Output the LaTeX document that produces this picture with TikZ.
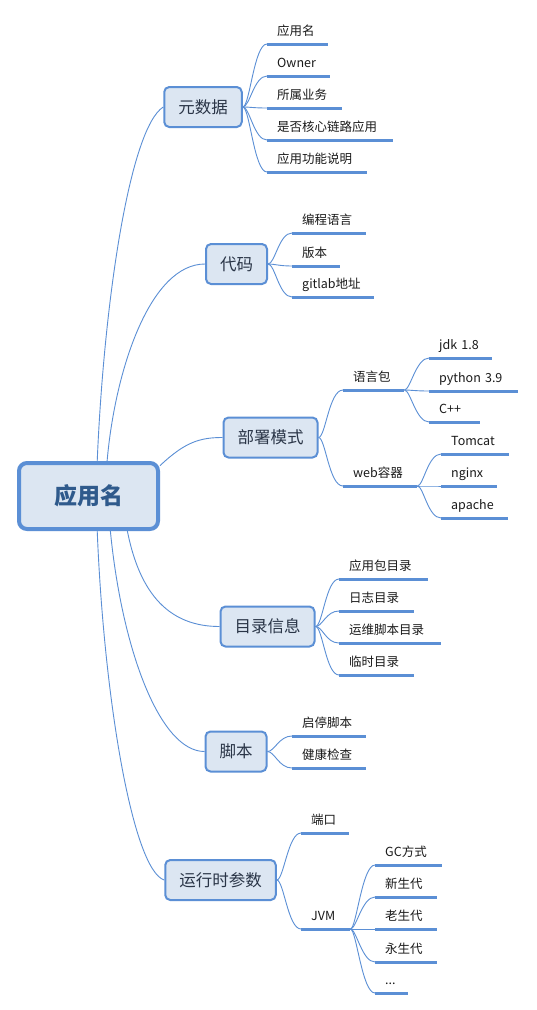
\documentclass[tikz,border=0pt]{standalone}
\usepackage{fontspec}
\setmainfont{Noto Sans CJK SC}
\usetikzlibrary{calc}
\definecolor{lineblue}{HTML}{5B8FD5}
\definecolor{boxfill}{HTML}{DCE6F2}
\definecolor{roottext}{HTML}{2F5A8C}
\definecolor{branchtext}{HTML}{2A3547}
\definecolor{leaftext}{HTML}{1A1A1A}
\begin{document}
\begin{tikzpicture}[x=1pt,y=-1pt,
  rootbox/.style={draw=lineblue, line width=4pt, fill=boxfill, rounded corners=8pt,
    minimum width=139pt, minimum height=66pt, inner sep=0pt,
    font=\fontsize{23}{26}\selectfont\bfseries, text=roottext},
  branchbox/.style={draw=lineblue, line width=2pt, fill=boxfill, rounded corners=5pt,
    minimum height=40pt, inner xsep=14pt, inner ysep=0pt,
    font=\fontsize{16.5}{19}\selectfont, text=branchtext},
  leaf/.style={anchor=south west, inner xsep=10pt, inner ysep=8pt, text depth=0pt,
    align=left, font=\fontsize{12.5}{14}\selectfont, text=leaftext},
  conn/.style={draw=lineblue, line width=0.9pt},
  uline/.style={draw=lineblue, line width=3pt}
]
\useasboundingbox[fill=white] (0,0) rectangle (536,1010);

% root
\node[rootbox] (root) at (88.5,496) {应用名};

% branches
\node[branchbox] (meta) at (203,107) {元数据};
\node[branchbox] (code) at (236.5,264) {代码};
\node[branchbox] (deploy) at (270.5,437.5) {部署模式};
\node[branchbox] (dir) at (267.5,626.5) {目录信息};
\node[branchbox] (script) at (236,751.5) {脚本};
\node[branchbox] (run) at (220.5,880) {运行时参数};

% leaves: meta
\node[leaf, text width=41pt] (m1) at (267,44) {应用名};
\node[leaf, text width=43pt] (m2) at (267,76) {Owner};
\node[leaf, text width=55pt] (m3) at (267,108) {所属业务};
\node[leaf, text width=106pt] (m4) at (267,140) {是否核心链路应用};
\node[leaf, text width=80pt] (m5) at (267,172) {应用功能说明};
% code
\node[leaf, text width=54pt] (c1) at (292,233) {编程语言};
\node[leaf, text width=28pt] (c2) at (292,266) {版本};
\node[leaf, text width=62pt] (c3) at (292,297) {gitlab地址};
% deploy
\node[leaf, text width=41pt] (d1) at (343,390) {语言包};
\node[leaf, text width=54pt] (d2) at (343,486) {web容器};
\node[leaf, text width=43pt] (d11) at (429,358) {jdk 1.8};
\node[leaf, text width=69pt] (d12) at (429,391) {python 3.9};
\node[leaf, text width=31pt] (d13) at (429,422) {C++};
\node[leaf, text width=48pt] (d21) at (441,454) {Tomcat};
\node[leaf, text width=36pt] (d22) at (441,486) {nginx};
\node[leaf, text width=47pt] (d23) at (441,518) {apache};
% dir
\node[leaf, text width=69pt] (e1) at (339,579) {应用包目录};
\node[leaf, text width=55pt] (e2) at (339,611) {日志目录};
\node[leaf, text width=82pt] (e3) at (339,643) {运维脚本目录};
\node[leaf, text width=55pt] (e4) at (339,675) {临时目录};
% script
\node[leaf, text width=54pt] (s1) at (292,736) {启停脚本};
\node[leaf, text width=54pt] (s2) at (292,768) {健康检查};
% run
\node[leaf, text width=28pt] (r1) at (301,833) {端口};
\node[leaf, text width=29pt] (r2) at (301,929) {JVM};
\node[leaf, text width=47pt] (r21) at (375,865) {GC方式};
\node[leaf, text width=42pt] (r22) at (375,897) {新生代};
\node[leaf, text width=42pt] (r23) at (375,929) {老生代};
\node[leaf, text width=42pt] (r24) at (375,962) {永生代};
\node[leaf, text width=13pt] (r25) at (375,993) {...};

% underlines
\foreach \n in {m1,m2,m3,m4,m5,c1,c2,c3,d1,d2,d11,d12,d13,d21,d22,d23,e1,e2,e3,e4,s1,s2,r1,r2,r21,r22,r23,r24,r25}
  \draw[uline] (\n.south west) -- (\n.south east);

% root connectors
\draw[conn] (root.76) .. controls (104,300) and (130,128) .. (meta.west);
\draw[conn] (root.62) .. controls (115,370) and (150,264) .. (code.west);
\draw[conn] (root.23) .. controls (185,442) and (200,437.5) .. (deploy.west);
\draw[conn] (root.-42) .. controls (140,595) and (170,626.5) .. (dir.west);
\draw[conn] (root.-58) .. controls (122,650) and (160,751.5) .. (script.west);
\draw[conn] (root.-76) .. controls (104,700) and (133,870) .. (run.west);

% leaf connectors
\foreach \n in {m1,m2,m3,m4,m5}
  \draw[conn] (meta.east) .. controls +(7,0) and +(-13,0) .. (\n.south west);
\foreach \n in {c1,c2,c3}
  \draw[conn] (code.east) .. controls +(7,0) and +(-13,0) .. (\n.south west);
\foreach \n in {d1,d2}
  \draw[conn] (deploy.east) .. controls +(7,0) and +(-14,0) .. (\n.south west);
\foreach \n in {d11,d12,d13}
  \draw[conn] (d1.south east) .. controls +(6,0) and +(-13,0) .. (\n.south west);
\foreach \n in {d21,d22,d23}
  \draw[conn] (d2.south east) .. controls +(6,0) and +(-13,0) .. (\n.south west);
\foreach \n in {e1,e2,e3,e4}
  \draw[conn] (dir.east) .. controls +(7,0) and +(-13,0) .. (\n.south west);
\foreach \n in {s1,s2}
  \draw[conn] (script.east) .. controls +(7,0) and +(-13,0) .. (\n.south west);
\foreach \n in {r1,r2}
  \draw[conn] (run.east) .. controls +(7,0) and +(-13,0) .. (\n.south west);
\foreach \n in {r21,r22,r23,r24,r25}
  \draw[conn] (r2.south east) .. controls +(6,0) and +(-13,0) .. (\n.south west);
\end{tikzpicture}
\end{document}
